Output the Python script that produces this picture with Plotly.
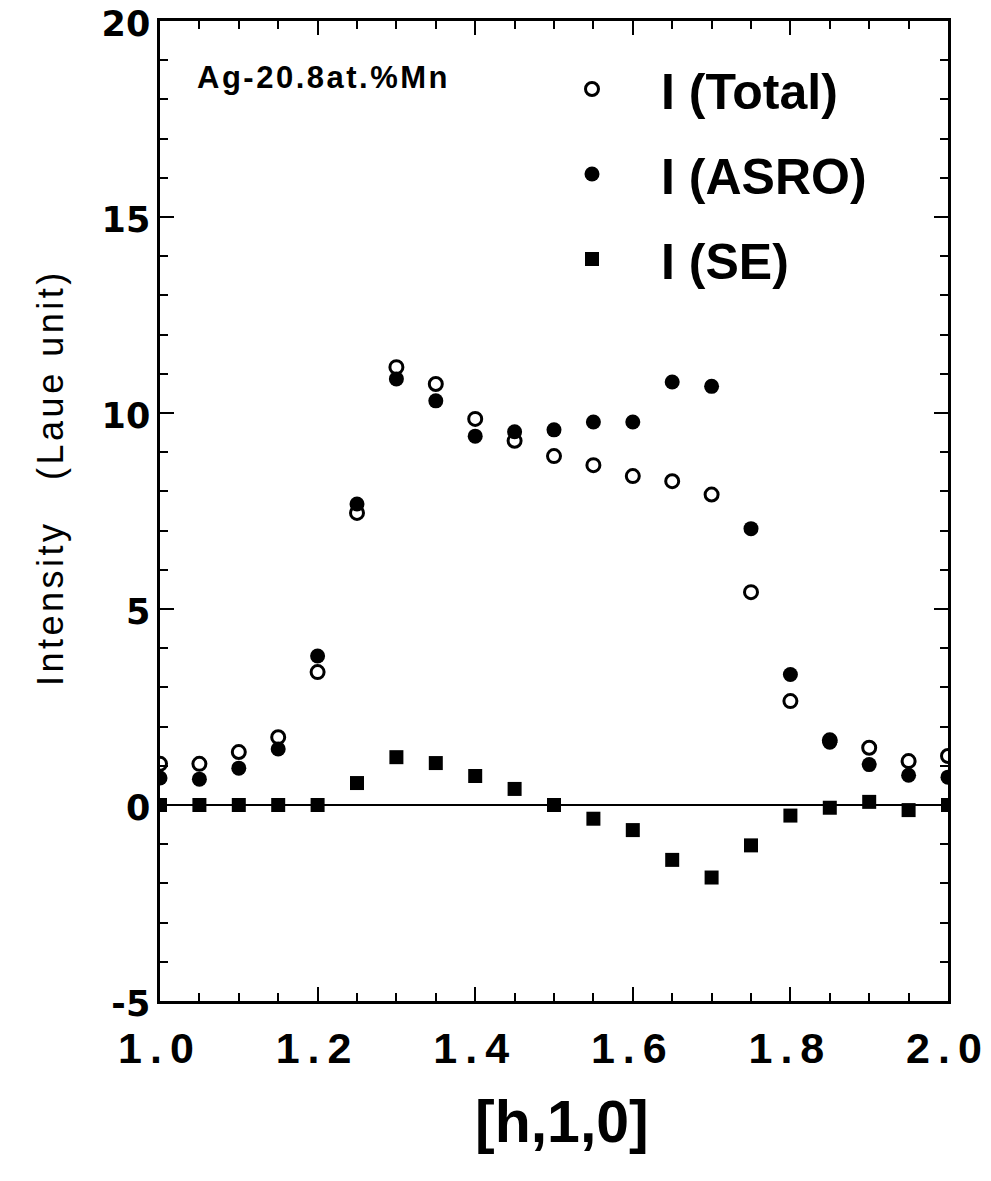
import plotly.graph_objects as go

h = [1.0, 1.05, 1.1, 1.15, 1.2, 1.25, 1.3, 1.35, 1.4, 1.45, 1.5,
     1.55, 1.6, 1.65, 1.7, 1.75, 1.8, 1.85, 1.9, 1.95, 2.0]
i_total = [1.05, 1.05, 1.35, 1.73, 3.39, 7.45, 11.17, 10.74, 9.85, 9.29, 8.90,
           8.67, 8.39, 8.26, 7.92, 5.43, 2.65, 1.65, 1.46, 1.12, 1.25]
i_asro = [0.69, 0.66, 0.94, 1.43, 3.80, 7.68, 10.87, 10.31, 9.41, 9.52, 9.57,
          9.77, 9.77, 10.79, 10.68, 7.05, 3.33, 1.60, 1.03, 0.76, 0.71]
i_se = [0.0, 0.0, 0.0, 0.0, 0.0, 0.56, 1.22, 1.07, 0.74, 0.41, 0.0,
        -0.35, -0.64, -1.40, -1.85, -1.03, -0.27, -0.07, 0.08, -0.13, 0.0]

x_ticks = [1.0, 1.2, 1.4, 1.6, 1.8, 2.0]
x_ticklabels = ["1.0", "1.2", "1.4", "1.6", "1.8", "2.0"]
y_ticks = [-5, 0, 5, 10, 15, 20]
y_ticklabels = ["-5", "0", "5", "10", "15", "20"]

# page body has an 8px margin; plot area targeted at x 160-948, y 21-1001 in the page
OFF = 8
L, T, W, H = 160 - OFF, 21 - OFF, 788, 980


def px(xp):
    return (xp - 160) / W


def py(yp):
    return (1001 - yp) / H


def spaced(t, sp):
    return f'<span style="letter-spacing:{sp}px">{t}</span>'


fig = go.Figure()
fig.add_trace(go.Scatter(
    x=h, y=i_total, mode="markers", name="I (Total)", legendgroup="a",
    marker=dict(symbol="circle-open", size=13, color="black", line=dict(width=3, color="black"))))
fig.add_trace(go.Scatter(
    x=h, y=i_asro, mode="markers", name="I (ASRO)", legendgroup="b",
    marker=dict(symbol="circle", size=15, color="black")))
fig.add_trace(go.Scatter(
    x=h, y=i_se, mode="markers", name="I (SE)", legendgroup="c",
    marker=dict(symbol="square", size=14, color="black")))

fig.add_annotation(text=spaced("Ag-20.8at.%Mn", 2.5), xref="paper", yref="paper",
                   x=px(195), y=py(77), xanchor="left", yanchor="middle",
                   showarrow=False, font=dict(family="Liberation Sans", size=31, color="black", weight="bold"))
fig.add_annotation(text=spaced("Intensity\u00a0\u00a0 (Laue unit)", 3.5), xref="paper", yref="paper",
                   x=px(50), y=py(478), textangle=-90,
                   xanchor="center", yanchor="middle", showarrow=False,
                   font=dict(family="Liberation Sans", size=36, color="black"))
fig.add_annotation(text="[h,1,0]", xref="paper", yref="paper",
                   x=px(562), y=py(1122),
                   xanchor="center", yanchor="middle", showarrow=False,
                   font=dict(family="Liberation Sans", size=59, color="black", weight="bold"))

fig.update_layout(
    width=991, height=1181,
    margin=dict(l=L, r=991 - L - W, t=T, b=1181 - T - H, autoexpand=False),
    plot_bgcolor="white", paper_bgcolor="white",
    showlegend=True,
    legend=dict(x=px(523), y=1 - 29 / H, xanchor="left", yanchor="top",
                font=dict(family="Liberation Sans", size=50, color="black", weight="bold"),
                itemwidth=128, tracegroupgap=17, bgcolor="rgba(0,0,0,0)"),
    xaxis=dict(range=[1.0, 2.0], tickmode="array", tickvals=x_ticks,
               ticktext=[spaced(t, 8) for t in x_ticklabels],
               automargin=False, ticklabeloverflow="allow", ticklabelstandoff=8,
               ticks="inside", ticklen=14, tickwidth=2, tickcolor="black",
               minor=dict(dtick=0.05, ticks="inside", ticklen=8, tickwidth=2, tickcolor="black"),
               showline=True, linewidth=2.5, linecolor="black", mirror="allticks",
               showgrid=False, zeroline=False,
               tickfont=dict(family="Liberation Sans", size=43, color="black", weight="bold")),
    yaxis=dict(range=[-5, 20], tickmode="array", tickvals=y_ticks, ticktext=y_ticklabels,
               automargin=False, ticklabeloverflow="allow", ticklabelshift=3,
               ticks="inside", ticklen=14, tickwidth=2, tickcolor="black",
               minor=dict(dtick=1, ticks="inside", ticklen=8, tickwidth=2, tickcolor="black"),
               showline=True, linewidth=2.5, linecolor="black", mirror="allticks",
               showgrid=False, zeroline=True, zerolinecolor="black", zerolinewidth=1.5,
               tickfont=dict(family="DejaVu Sans", size=35, color="black", weight="bold")),
)

fig.write_html("out.html")
